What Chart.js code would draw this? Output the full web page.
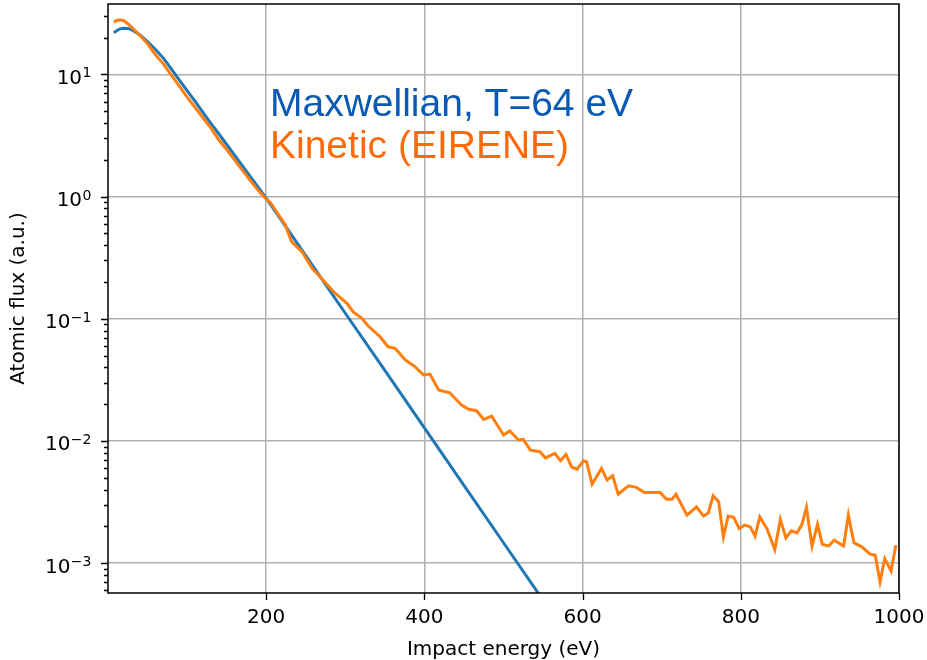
<!DOCTYPE html>
<html>
<head>
<meta charset="utf-8">
<script src="https://cdn.jsdelivr.net/npm/chart.js@4/dist/chart.umd.min.js"></script>
<style>
  html, body { margin: 0; padding: 0; background: #fff; }
  #wrap { width: 927px; height: 660px; }
</style>
</head>
<body>
<div id="wrap"><canvas id="grafico" width="927" height="660"></canvas></div>
<script>
// ===== DADOS =====
const energiaMaxwell = [7.5, 10, 15, 20, 25, 30, 40, 50, 60, 70, 80, 90, 100, 110, 120, 130, 140, 150, 160, 170, 180, 190, 200, 250, 300, 350, 400, 450, 500, 550, 600];
const fluxoMaxwell = [21.9, 22.6, 23.6, 23.9, 23.8, 23.2, 21.1, 18.6, 16.0, 13.6, 11.1, 9.04, 7.38, 6.03, 4.90, 3.98, 3.27, 2.67, 2.18, 1.78, 1.46, 1.19, 0.97, 0.329, 0.111, 0.0378, 0.0128, 0.00434, 0.00147, 0.000498, 0.000169];

const energiaEirene = [7.6, 10, 15, 20, 25, 30, 40, 50, 60, 70, 80, 90, 100, 110, 120, 130, 140, 150, 160, 170, 180, 190, 200,
  205, 224, 232, 245, 258, 268, 285, 302, 310, 321, 329, 344, 354, 363, 376, 388, 399, 407, 418, 432, 447, 456, 466, 475, 485,
  500, 508, 519, 525, 534, 546, 553, 565, 572, 579, 586, 593, 601, 605, 612, 624, 631, 638, 645, 658, 668, 678, 698, 706, 713, 718,
  732, 744, 753, 759, 765, 772, 778, 784, 791, 798, 805, 812, 818, 824, 833, 843, 850, 857, 864, 871, 877, 883, 890, 897,
  903, 911, 918, 930, 936, 943, 953, 963, 970, 976, 982, 990, 996];
const fluxoEirene = [26.6, 27.5, 28.0, 27.5, 26.0, 24.3, 20.9, 17.8, 14.5, 12.2, 9.89, 8.04, 6.53, 5.37, 4.42, 3.65, 2.92, 2.43, 2.0, 1.64, 1.35, 1.12, 0.955,
  0.900, 0.590, 0.428, 0.355, 0.259, 0.221, 0.167, 0.134, 0.114, 0.101, 0.0873, 0.0713, 0.0590, 0.0573, 0.0460, 0.0406, 0.0347, 0.0353, 0.0261, 0.0248, 0.0197, 0.0182, 0.0177, 0.0150, 0.0160,
  0.0112, 0.0121, 0.0102, 0.0103, 0.00841, 0.00817, 0.00728, 0.00791, 0.00689, 0.00776, 0.00615, 0.00585, 0.00689, 0.00676, 0.00444, 0.00597, 0.00479, 0.00519, 0.00367, 0.00430, 0.00417, 0.00379, 0.00379, 0.00333, 0.00333, 0.00367,
  0.00247, 0.00289, 0.00243, 0.00258, 0.00356, 0.00318, 0.00164, 0.00243, 0.00237, 0.00192, 0.00205, 0.00198, 0.00166, 0.00239, 0.00192, 0.00129, 0.00228, 0.00161, 0.00184, 0.00177, 0.00205, 0.00286, 0.00138, 0.00208,
  0.00143, 0.00138, 0.00154, 0.00138, 0.00247, 0.00147, 0.00136, 0.00119, 0.00116, 0.000703, 0.00109, 0.000865, 0.00140];

const ticksX = [200, 400, 600, 800, 1000];
const expoentesY = [-4, -3, -2, -1, 0, 1];
const rotulos = ['Maxwellian, T=64 eV', 'Kinetic (EIRENE)'];

// ===== AUXILIARES =====
function pares(xs, ys) {
  return xs.map((x, i) => ({ x: x, y: ys[i] }));
}

function ehMaior(v) {
  const e = Math.log10(v);
  return Math.abs(e - Math.round(e)) < 1e-6;
}

function semPadding(s) {
  s.paddingTop = 0;
  s.paddingBottom = 0;
  s.paddingLeft = 0;
  s.paddingRight = 0;
}

const fonteEixo = { family: 'DejaVu Sans', size: 20 };

// ticks, moldura, rótulos 10^n e texto da legenda
const extras = {
  id: 'extras',
  afterDatasetsDraw(chart) {
    const ctx = chart.ctx;
    const a = chart.chartArea;
    const sx = chart.scales.x;
    const sy = chart.scales.y;
    ctx.save();
    ctx.strokeStyle = '#000';
    ctx.lineWidth = 1.5;
    ctx.strokeRect(a.left, a.top, a.right - a.left, a.bottom - a.top);

    ctx.lineWidth = 1.3;
    ctx.beginPath();
    sx.ticks.forEach(t => {
      const px = Math.round(sx.getPixelForValue(t.value)) + 0.5;
      ctx.moveTo(px, a.bottom);
      ctx.lineTo(px, a.bottom + 7);
    });
    sy.ticks.forEach(t => {
      const py = Math.round(sy.getPixelForValue(t.value)) + 0.5;
      if (py < a.top - 1 || py > a.bottom + 1) return;
      const len = ehMaior(t.value) ? 7 : 4;
      ctx.moveTo(a.left - len, py);
      ctx.lineTo(a.left, py);
    });
    ctx.stroke();

    // rótulos do eixo y com expoente
    ctx.fillStyle = '#000';
    ctx.textBaseline = 'alphabetic';
    ctx.textAlign = 'left';
    sy.ticks.forEach(t => {
      if (!ehMaior(t.value)) return;
      const py = sy.getPixelForValue(t.value);
      const e = Math.round(Math.log10(t.value));
      const exp = e < 0 ? '\u2212' + Math.abs(e) : String(e);
      ctx.font = '20px "DejaVu Sans"';
      const wBase = ctx.measureText('10').width;
      ctx.font = '14px "DejaVu Sans"';
      const wExp = ctx.measureText(exp).width;
      const x0 = a.left - 17 - wBase - wExp;
      ctx.font = '20px "DejaVu Sans"';
      ctx.fillText('10', x0, py + 9.5);
      ctx.font = '14px "DejaVu Sans"';
      ctx.fillText(exp, x0 + wBase + 0.5, py + 3);
    });

    ctx.font = '39px "Liberation Sans", Arial, sans-serif';
    ctx.fillStyle = '#0a5ab4';
    ctx.fillText(rotulos[0], 270, 116);
    ctx.fillStyle = '#ff6a08';
    ctx.fillText(rotulos[1], 270, 158);
    ctx.restore();
  }
};

// ===== GRÁFICO =====
new Chart(document.getElementById('grafico'), {
  type: 'line',
  data: {
    datasets: [
      {
        label: rotulos[0],
        data: pares(energiaMaxwell, fluxoMaxwell),
        borderColor: '#1f77b4',
        borderWidth: 3,
        pointRadius: 0,
        tension: 0,
        order: 1
      },
      {
        label: rotulos[1],
        data: pares(energiaEirene, fluxoEirene),
        borderColor: '#ff7f0e',
        borderWidth: 3,
        pointRadius: 0,
        tension: 0,
        order: 0
      }
    ]
  },
  options: {
    responsive: false,
    animation: false,
    devicePixelRatio: 1,
    layout: { padding: { top: 4, right: 28, left: 0, bottom: 0 } },
    plugins: {
      legend: { display: false },
      tooltip: { enabled: false }
    },
    scales: {
      x: {
        type: 'linear',
        min: 0,
        max: 1000,
        afterBuildTicks: s => { s.ticks = ticksX.map(v => ({ value: v })); },
        afterFit: s => { s.height = 67; semPadding(s); },
        ticks: { color: '#000', font: fonteEixo, padding: 13, maxRotation: 0, autoSkip: false, callback: v => String(v) },
        grid: { color: '#b0b0b0', lineWidth: 1.5, drawTicks: false },
        border: { display: false },
        title: {
          display: true,
          text: 'Impact energy (eV)',
          color: '#000',
          font: { family: 'DejaVu Sans', size: 20, lineHeight: 1 },
          padding: { top: 0, bottom: 0 }
        }
      },
      y: {
        type: 'logarithmic',
        min: 5.7e-4,
        max: 37.7,
        afterBuildTicks: s => {
          const lista = [];
          expoentesY.forEach(e => {
            for (let m = 1; m <= 9; m++) {
              const v = m * Math.pow(10, e);
              if (v >= s.min && v <= s.max) lista.push({ value: v });
            }
          });
          s.ticks = lista;
        },
        afterFit: s => { s.width = 108; semPadding(s); },
        ticks: { display: false, autoSkip: false },
        grid: {
          color: c => (c.tick && ehMaior(c.tick.value)) ? '#b0b0b0' : 'rgba(0,0,0,0)',
          lineWidth: 1.5,
          drawTicks: false
        },
        border: { display: false },
        title: {
          display: true,
          text: 'Atomic flux (a.u.)',
          color: '#000',
          font: { family: 'DejaVu Sans', size: 20, lineHeight: 1 },
          padding: { top: 9, bottom: 0 }
        }
      }
    }
  },
  plugins: [extras]
});
</script>
</body>
</html>
